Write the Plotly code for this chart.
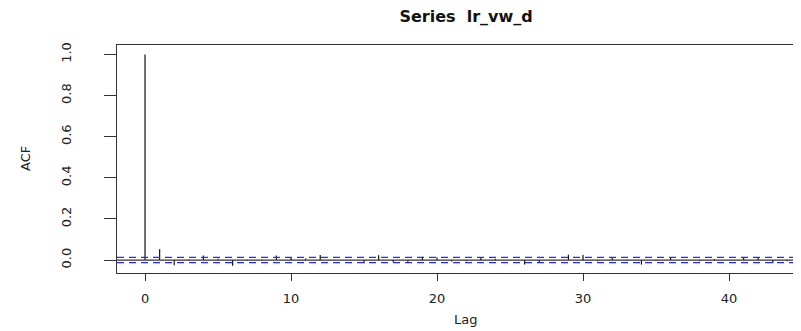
import plotly.graph_objects as go

# ACF values (lags 0..44)
lags = list(range(45))
acf_values = [1.0, 0.052, -0.025, 0.003, 0.022, 0.006, -0.028, -0.005, -0.004, 0.022,
              0.012, 0.008, 0.025, 0.002, -0.002, -0.016, 0.023, -0.010, -0.008, 0.016,
              0.013, -0.007, -0.006, 0.013, 0.006, 0.001, -0.022, -0.013, -0.003, 0.026,
              0.024, -0.006, 0.011, -0.005, -0.022, -0.005, 0.011, 0.002, -0.006, 0.005,
              -0.001, 0.015, 0.013, -0.016, -0.006]
conf_limit = 0.013
x_ticks = [0, 10, 20, 30, 40]
y_ticks = [0.0, 0.2, 0.4, 0.6, 0.8, 1.0]
y_tick_labels = ["0.0", "0.2", "0.4", "0.6", "0.8", "1.0"]

# Build vertical spikes from the data
xs, ys = [], []
for lag, v in zip(lags, acf_values):
    xs += [lag, lag, None]
    ys += [0, v, None]

fig = go.Figure()
fig.add_trace(go.Scatter(x=xs, y=ys, mode="lines",
                         line=dict(color="#111111", width=1.2),
                         hoverinfo="skip", showlegend=False))

fig.add_hline(y=0, line=dict(color="#333333", width=1.2))
for c in (conf_limit, -conf_limit):
    fig.add_hline(y=c, line=dict(color="#2a2aff", width=1.2, dash="7px,5px"))

axis_font = dict(family="DejaVu Sans, Arial", size=13, color="#222222")

# page has an 8px body margin, so the figure is sized 793x323
fig.update_layout(
    width=793, height=323,
    margin=dict(l=109, r=0, t=37, b=58, autoexpand=False),
    paper_bgcolor="white", plot_bgcolor="white",
    title=dict(text="<b>Series\u00a0 lr_vw_d</b>", x=0.5776, xanchor="center",
               y=0.99, yanchor="top",
               font=dict(family="DejaVu Sans, Arial", size=16, color="#111111")),
    xaxis=dict(range=[-1.92, 44.93], tickvals=x_ticks, ticks="outside", ticklen=7,
               tickcolor="#333333", showline=True, linecolor="#333333", linewidth=1.2,
               mirror=True, showgrid=False, zeroline=False, tickfont=axis_font,
               automargin=False, ticklabelstandoff=6),
    yaxis=dict(range=[-0.063, 1.046], tickvals=y_ticks, ticktext=y_tick_labels,
               ticks="outside", ticklen=12, tickcolor="#333333", tickangle=-90,
               showline=True, linecolor="#333333", linewidth=1.2, mirror=True,
               showgrid=False, zeroline=False, tickfont=axis_font,
               automargin=False, ticklabelstandoff=28),
    annotations=[
        dict(text="Lag", xref="paper", yref="paper", x=0.51, y=-0.206, showarrow=False,
             xanchor="center", yanchor="middle", font=axis_font),
        dict(text="ACF", xref="paper", yref="paper", x=-0.1345, y=0.5, showarrow=False,
             xanchor="center", yanchor="middle", textangle=-90, font=axis_font),
    ],
)

fig.write_html("out.html")
